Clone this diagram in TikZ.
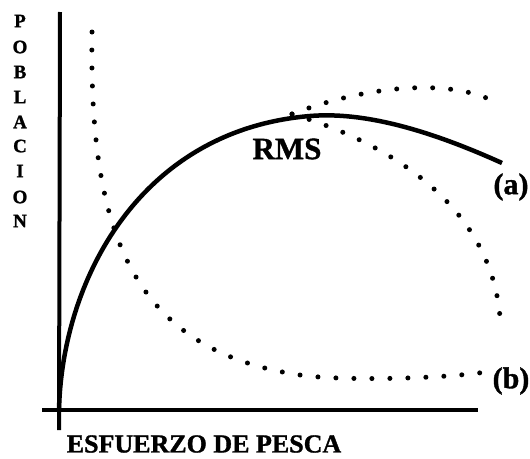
\documentclass[tikz,border=0pt]{standalone}
\usepackage{fontspec}
\setmainfont{Liberation Serif}[BoldFeatures={FakeBold=1.2}]
\begin{document}
\begin{tikzpicture}[x=1pt,y=-1pt,
  axisline/.style={line width=4pt},
  solidcurve/.style={line width=4.5pt},
  dotcurve/.style={line width=5pt, line cap=round, dash pattern=on 0pt off 18pt},
  lbl/.style={font=\bfseries\fontsize{28}{30}\selectfont, inner sep=0pt},
  ylbl/.style={font=\bfseries\fontsize{19}{21}\selectfont, inner sep=0pt}]
\useasboundingbox (0,0) rectangle (530,458);
% axes
\coordinate (ytop) at (60,12);
\coordinate (ybot) at (59,430);
\coordinate (xl) at (42,410);
\coordinate (xr) at (478,410);
\draw[axisline] (ytop) -- (ybot);
\draw[axisline] (xl) -- (xr);
% solid curve (a)
\coordinate (o) at (59,410);
\coordinate (peak) at (310,116);
\coordinate (aend) at (502,163);
\draw[solidcurve] (o) .. controls (62,280) and (140,130) .. (peak)
  .. controls (370,111) and (440,135) .. (aend);
% dotted curve (b)
\coordinate (bstart) at (92,32);
\coordinate (bmid) at (300,375);
\coordinate (bend) at (486,372);
\draw[dotcurve] (bstart) .. controls (89,230) and (130,350) .. (bmid)
  .. controls (340,381) and (440,379) .. (bend);
% branches from RMS
\coordinate (rmspt) at (292,114);
\coordinate (upend) at (489,99);
\coordinate (lowend) at (500,317);
\draw[dotcurve] (rmspt) .. controls (360,88) and (440,78) .. (upend);
\draw[dotcurve] (rmspt) .. controls (380,140) and (490,200) .. (lowend);
% labels
\node[lbl, font=\bfseries\fontsize{31}{33}\selectfont] (rms) at (287,149) {RMS};
\node[lbl, font=\bfseries\fontsize{30}{32}\selectfont] (la) at (511,187) {(a)};
\node[lbl, font=\bfseries\fontsize{30}{32}\selectfont] (lb) at (511,381) {(b)};
\node[lbl, font=\bfseries\fontsize{26}{28}\selectfont] (xlab) at (204,444) {ESFUERZO DE PESCA};
\node[ylbl] (p1) at (20,21) {P};
\node[ylbl] (p2) at (20,47) {O};
\node[ylbl] (p3) at (20,72) {B};
\node[ylbl] (p4) at (20,97) {L};
\node[ylbl] (p5) at (20,122) {A};
\node[ylbl] (p6) at (20,146) {C};
\node[ylbl] (p7) at (20,171) {I};
\node[ylbl] (p8) at (20,197) {O};
\node[ylbl] (p9) at (20,221) {N};
\end{tikzpicture}
\end{document}
